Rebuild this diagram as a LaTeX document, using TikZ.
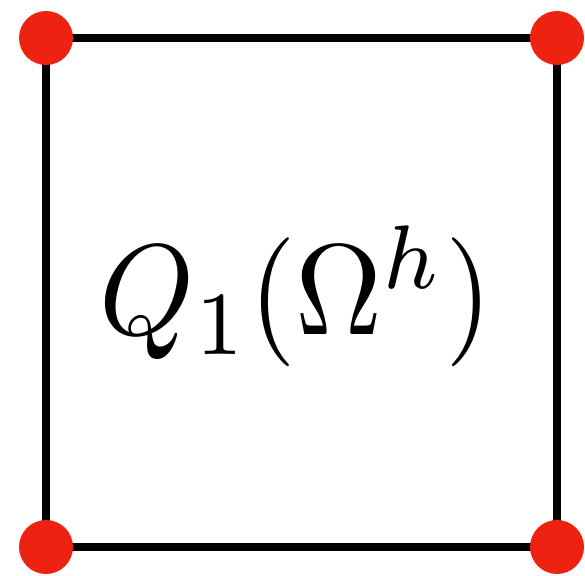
\documentclass[tikz,border=0pt]{standalone}
\definecolor{dotred}{RGB}{238,34,17}
\begin{document}
\begin{tikzpicture}[x=1pt,y=1pt,
  edge/.style={line width=7.5pt,black},
  vertex/.style={circle,fill=dotred,inner sep=0pt,minimum size=54pt}]
\useasboundingbox (0,0) rectangle (585,575);
\coordinate (a) at (46,537);
\coordinate (b) at (557,537);
\coordinate (c) at (557,28);
\coordinate (d) at (46,28);
\draw[edge] (a) -- (b) -- (c) -- (d) -- cycle;
\foreach \p in {a,b,c,d} \node[vertex] (v\p) at (\p) {};
\node[xscale=12.05,yscale=12.9,anchor=base,inner sep=0pt] (lbl) at (296,240) {$Q_1(\Omega^h)$};
\end{tikzpicture}
\end{document}
